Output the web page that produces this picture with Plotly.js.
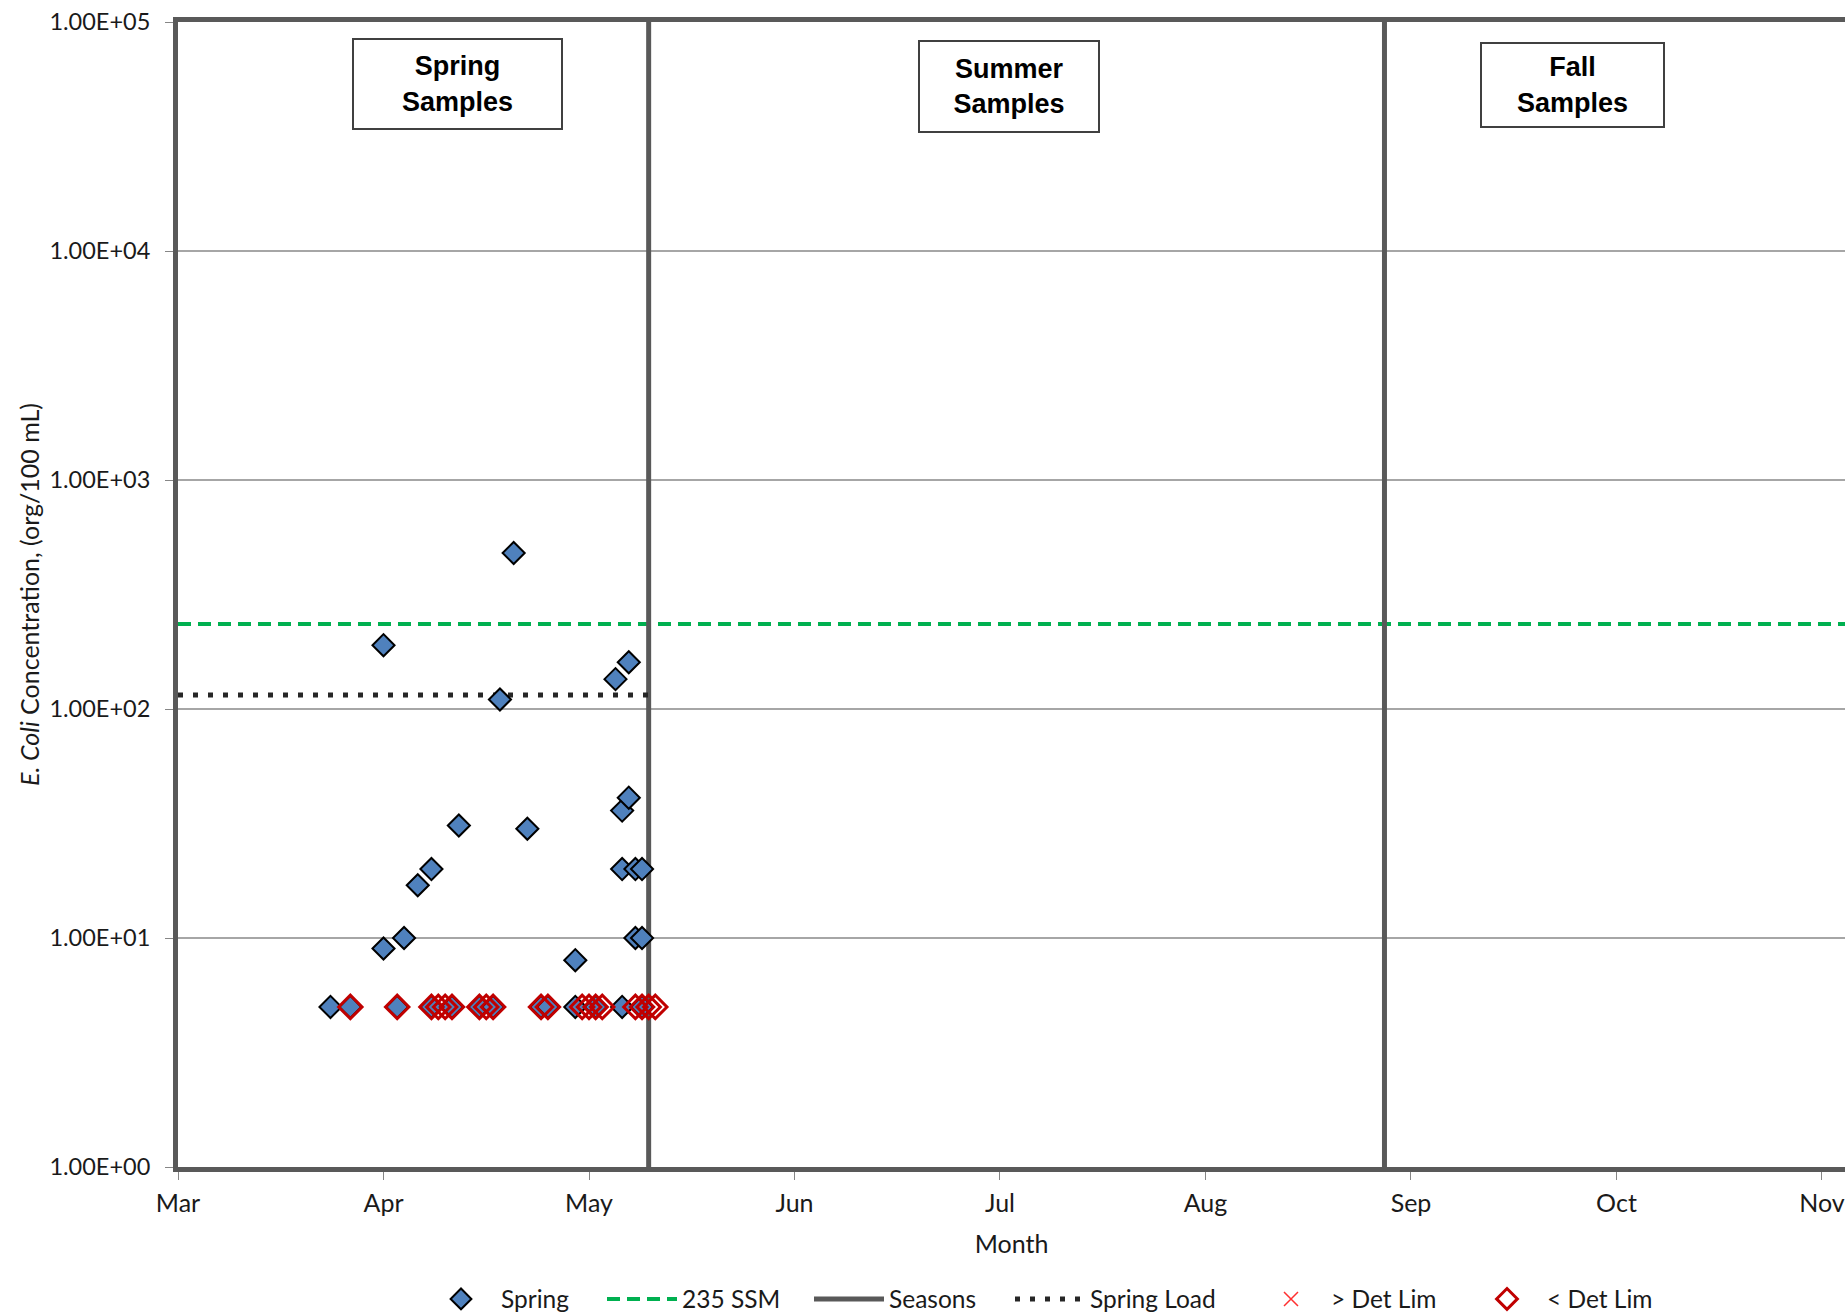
<!DOCTYPE html>
<html>
<head>
<meta charset="utf-8">
<script src="https://cdn.plot.ly/plotly-3.0.1.min.js"></script>
<style>html,body{margin:0;padding:0;background:#fff;}#chart{width:1845px;height:1315px;}</style>
</head>
<body>
<div id="chart"></div>
<script>
// ---- Data ----
const monthLabels = ['Mar','Apr','May','Jun','Jul','Aug','Sep','Oct','Nov'];
const yTickValues = [1, 10, 100, 1000, 10000, 100000];
const yTickLabels = ['1.00E+00','1.00E+01','1.00E+02','1.00E+03','1.00E+04','1.00E+05'];

const springDates = ['2010-03-24','2010-03-27','2010-04-01','2010-04-01','2010-04-03','2010-04-04','2010-04-06',
  '2010-04-08','2010-04-08','2010-04-11','2010-04-12','2010-04-15','2010-04-17','2010-04-18','2010-04-20',
  '2010-04-22','2010-04-24','2010-04-25','2010-04-29','2010-04-29','2010-05-02','2010-05-05','2010-05-06',
  '2010-05-06','2010-05-06','2010-05-07','2010-05-07','2010-05-08','2010-05-08','2010-05-09','2010-05-09','2010-05-09'];
const springValues = [5,5,190,9,5,10,17,
  20,5,5,31,5,5,110,480,
  30,5,5,8,5,5,135,36,
  20,5,160,41,20,10,20,10,5];

const belowDetDates = ['2010-03-27','2010-04-03','2010-04-08','2010-04-09','2010-04-10','2010-04-11','2010-04-15',
  '2010-04-16','2010-04-17','2010-04-24','2010-04-25','2010-04-30','2010-05-01','2010-05-02','2010-05-03',
  '2010-05-08','2010-05-09','2010-05-10','2010-05-11'];
const belowDetValues = [5,5,5,5,5,5,5,5,5,5,5,5,5,5,5,5,5,5,5];

// no samples above the detection limit (series is empty, shown only in the legend)
const aboveDetDates = [null];
const aboveDetValues = [null];

const ssmDates = ['2010-03-01','2010-11-30'];
const ssmValues = [235, 235];

const springLoadDates = ['2010-03-01','2010-05-10'];
const springLoadValues = [115, 115];

const seasonBreakDates = ['2010-05-10','2010-08-28'];
const seasonYRange = [1, 100000];

const seasonLabels = ['Spring<br>Samples','Summer<br>Samples','Fall<br>Samples'];

// ---- helpers: month axis with equal-width months, Mar = 0 ----
function monthPos(s){
  if (s === null) return null;
  const p = s.split('-').map(Number);
  const y = p[0], m = p[1], d = p[2];
  const dim = new Date(Date.UTC(y, m, 0)).getUTCDate();
  return (m - 3) + (d - 1) / dim;
}
const mp = a => a.map(monthPos);

const seasonX = [], seasonY = [];
seasonBreakDates.forEach((d, i) => {
  if (i > 0) { seasonX.push(null); seasonY.push(null); }
  seasonX.push(monthPos(d), monthPos(d));
  seasonY.push(seasonYRange[0], seasonYRange[1]);
});

const GRAY = '#595959';
const traces = [
  {name:'235 SSM', legend:'legend2', x: mp(ssmDates), y: ssmValues, mode:'lines',
   line:{color:'#00B050', width:4, dash:'13px,7px'}},
  {name:'Seasons', legend:'legend3', x: seasonX, y: seasonY, mode:'lines',
   line:{color:GRAY, width:5}},
  {name:'Spring Load', legend:'legend4', x: mp(springLoadDates), y: springLoadValues, mode:'lines',
   line:{color:'#262626', width:5, dash:'5px,10px'}},
  {name:'Spring', legend:'legend', x: mp(springDates), y: springValues, mode:'markers',
   marker:{symbol:'diamond', size:17, color:'#4F81BD', line:{color:'#000', width:2}}},
  {name:'> Det Lim', legend:'legend5', x: mp(aboveDetDates), y: aboveDetValues, mode:'markers',
   marker:{symbol:'x-thin-open', size:14, color:'#FF3030', line:{color:'#FF3030', width:1.5}}},
  {name:'< Det Lim', legend:'legend6', x: mp(belowDetDates), y: belowDetValues, mode:'markers',
   marker:{symbol:'diamond-open', size:18, color:'#C00000', line:{color:'#C00000', width:3}}}
];

const boxPos = [
  {x:0.1675, y:0.9460, w:205, h:86},
  {x:0.4984, y:0.9440, w:176, h:87},
  {x:0.8367, y:0.9450, w:179, h:80}
];
const annotations = seasonLabels.map((t, i) => ({
  text: t, xref:'paper', yref:'paper', x: boxPos[i].x, y: boxPos[i].y,
  xanchor:'center', yanchor:'middle', showarrow:false,
  width: boxPos[i].w, height: boxPos[i].h, align:'center', valign:'middle',
  bgcolor:'#fff', bordercolor:'#404040', borderwidth:2, borderpad:1,
  font:{family:'"Liberation Sans", Arial, sans-serif', size:27, color:'#000', weight:'bold'}
}));

function legendAt(px){
  return {orientation:'h', xref:'container', yref:'container', x: px/1845, xanchor:'left',
    y: (1315-1299)/1315, yanchor:'middle', font:{size:24.5}, itemwidth:70,
    bgcolor:'rgba(0,0,0,0)', borderwidth:0};
}

const layout = {
  width:1845, height:1315,
  margin:{l:178, r:0, t:22, b:148},
  paper_bgcolor:'#fff', plot_bgcolor:'#fff',
  font:{family:'Lato, sans-serif', size:21, color:'#1a1a1a'},
  showlegend:true,
  xaxis:{
    range:[0, 8.112], tickvals: monthLabels.map((_, i) => i), ticktext: monthLabels,
    showgrid:false, zeroline:false,
    showline:true, linecolor:GRAY, linewidth:5, mirror:true,
    ticks:'outside', ticklen:8, tickcolor:'#868686', tickwidth:1,
    ticklabelstandoff:2,
    tickfont:{size:25},
    title:{text:'Month', font:{size:25}, standoff:21}
  },
  yaxis:{
    type:'log', range:[0, 5], tickvals: yTickValues, ticktext: yTickLabels,
    showgrid:true, gridcolor:'#a6a6a6', gridwidth:1.3, zeroline:false,
    showline:true, linecolor:GRAY, linewidth:5,
    ticks:'outside', ticklen:8, tickcolor:'#868686', tickwidth:1,
    ticklabelstandoff:10,
    tickfont:{size:23.5},
    title:{text:'<i>E. Coli</i> Concentration, (org/100 mL)', font:{size:25}, standoff:4}
  },
  legend: legendAt(421),
  legend2: legendAt(602),
  legend3: legendAt(809),
  legend4: legendAt(1010),
  legend5: legendAt(1251),
  legend6: legendAt(1467),
  annotations: annotations
};

Plotly.newPlot('chart', traces, layout, {displayModeBar:false, staticPlot:true});
</script>
</body>
</html>
